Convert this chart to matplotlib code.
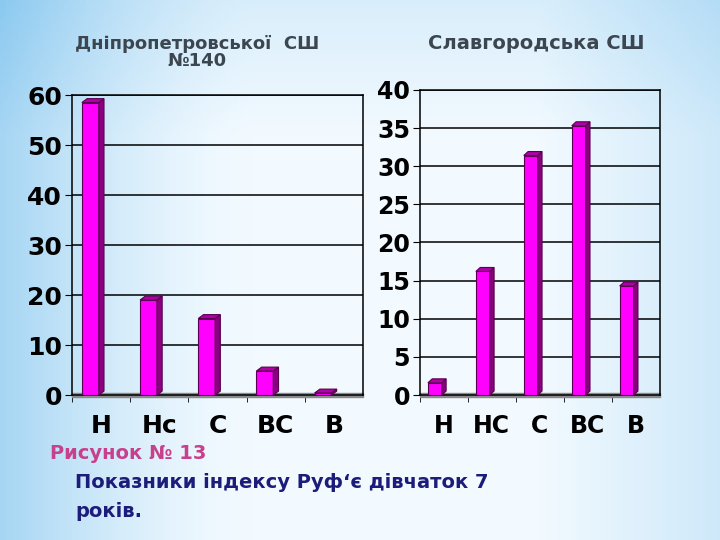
import matplotlib.pyplot as plt
import numpy as np
from matplotlib.patches import Polygon

plt.rcParams['font.family'] = ['DejaVu Sans']

# data
left_cats = ['H', 'Hc', 'C', 'BC', 'B']
left_vals = [58.5, 19, 15.3, 4.8, 0.4]
left_ticks = [0, 10, 20, 30, 40, 50, 60]
left_title = 'Дніпропетровської  СШ\n№140'

right_cats = ['H', 'HC', 'C', 'BC', 'B']
right_vals = [1.6, 16.2, 31.4, 35.3, 14.3]
right_ticks = [0, 5, 10, 15, 20, 25, 30, 35, 40]
right_title = 'Славгородська СШ'

fig = plt.figure(figsize=(7.2, 5.4), dpi=100)

# background gradient (blue left edge, pale centre)
bg = fig.add_axes([0, 0, 1, 1], zorder=-10)
xx, yy = np.meshgrid(np.linspace(0, 1, 200), np.linspace(0, 1, 150))
w = np.clip(1 - xx / 0.35, 0, 1) ** 1.5 * 0.75 + np.clip((xx - 0.75) / 0.25, 0, 1) * 0.35 \
    + np.clip((0.25 - yy) / 0.25, 0, 1) * 0.25
w = np.clip(w, 0, 1)
c0 = np.array([0.95, 0.98, 1.0])
c1 = np.array([0.55, 0.79, 0.94])
img = c0[None, None, :] * (1 - w[..., None]) + c1[None, None, :] * w[..., None]
bg.imshow(img, aspect='auto', extent=[0, 1, 0, 1], origin='upper')
bg.axis('off')


def draw_chart(ax, cats, vals, ticks, cat_size, tick_size):
    n = len(cats)
    width = 0.29
    dx, dy_frac = 0.09, 0.013
    ymax = ticks[-1]
    dy = dy_frac * ymax
    ax.set_xlim(-0.5, n - 0.5)
    ax.set_ylim(0, ymax)
    ax.set_facecolor('none')
    for t in ticks[1:]:
        ax.axhline(t, color='black', lw=1.1, zorder=1)
    # floor
    ax.fill_between([-0.5, n - 0.5], [-dy * 0.6, -dy * 0.6], [dy * 0.4, dy * 0.4],
                    color='#8a8a8a', zorder=2, clip_on=False)
    for i, v in enumerate(vals):
        x0 = i - 0.5 + 0.17
        ax.bar(x0, v, width=width, align='edge', color='#ff00ff',
               edgecolor='#5a0050', lw=0.8, zorder=3)
        side = Polygon([(x0 + width, 0), (x0 + width + dx, dy), (x0 + width + dx, v + dy),
                        (x0 + width, v)], closed=True, fc='#8a0080', ec='#5a0050', lw=0.8, zorder=3)
        top = Polygon([(x0, v), (x0 + dx, v + dy), (x0 + width + dx, v + dy), (x0 + width, v)],
                      closed=True, fc='#b000a8', ec='#5a0050', lw=0.8, zorder=3)
        ax.add_patch(side)
        ax.add_patch(top)
    ax.set_yticks(ticks)
    ax.set_yticklabels([str(t) for t in ticks], fontsize=tick_size, fontweight='bold')
    ax.set_xticks(np.arange(n) - 0.5, minor=True)
    ax.set_xticks(np.arange(n))
    ax.set_xticklabels(cats, fontsize=cat_size, fontweight='bold')
    ax.tick_params(axis='x', which='major', length=0, pad=14)
    ax.tick_params(axis='x', which='minor', length=5, direction='out')
    ax.tick_params(axis='y', length=5, pad=2, direction='out')
    for s in ax.spines.values():
        s.set_linewidth(1.1)


ax1 = fig.add_axes([0.1, 0.2685, 0.404, 0.5555])
draw_chart(ax1, left_cats, left_vals, left_ticks, 18, 18)
ax2 = fig.add_axes([0.583, 0.2685, 0.333, 0.565])
draw_chart(ax2, right_cats, right_vals, right_ticks, 17, 17)

fig.text(0.274, 0.935, left_title, ha='center', va='top', fontsize=13,
         color='#3c4650', fontweight='bold', linespacing=0.95)
fig.text(0.745, 0.92, right_title, ha='center', va='center', fontsize=14,
         color='#3c4650', fontweight='bold')

fig.text(0.069, 0.161, 'Рисунок № 13', ha='left', va='center', fontsize=14,
         color='#c8408c', fontweight='bold')
fig.text(0.104, 0.106, 'Показники індексу Руф‘є дівчаток 7', ha='left', va='center',
         fontsize=14, color='#1c1c7a', fontweight='bold')
fig.text(0.104, 0.052, 'років.', ha='left', va='center',
         fontsize=14, color='#1c1c7a', fontweight='bold')

fig.savefig('out.png', dpi=100)
